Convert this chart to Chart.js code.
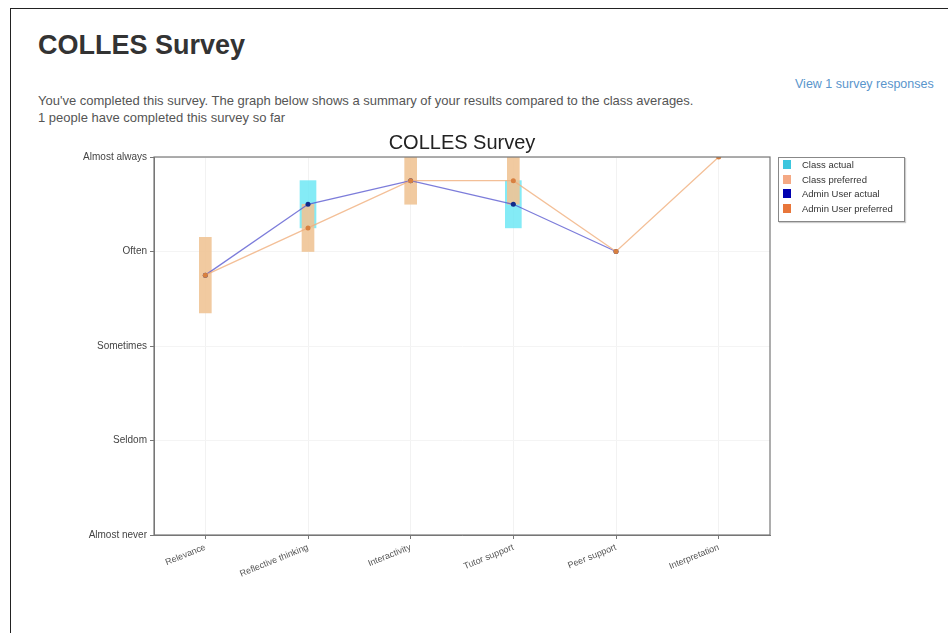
<!DOCTYPE html>
<html>
<head>
<meta charset="utf-8">
<script src="https://cdn.jsdelivr.net/npm/chart.js@4.4.0/dist/chart.umd.min.js"></script>
<style>
  body { margin: 0; background: #fff; font-family: "Liberation Sans", Arial, sans-serif; }
  #frame { position: absolute; left: 10px; top: 8px; width: 1000px; height: 700px; border: 1.5px solid #222; }
  h2 { position: absolute; left: 38px; top: 30px; margin: 0; font-size: 27px; font-weight: bold; color: #333; }
  .intro { position: absolute; left: 38px; top: 92px; margin: 0; font-size: 13px; line-height: 17px; color: #555; }
  #link { position: absolute; left: 795px; top: 77px; font-size: 12.5px; color: #5a95cc; }
  #wrap { position: absolute; left: 40px; top: 128px; width: 844px; height: 460px; }
  #legend { position: absolute; left: 778px; top: 157px; width: 125px; height: 63px; border: 1px solid #888;
            box-shadow: 1px 1px 1px #ccc; background: #fff; font-size: 9.5px; color: #333; }
  #legend div { height: 14.5px; line-height: 14.5px; padding-left: 4px; white-space: nowrap; }
  #legend span { display: inline-block; width: 8px; height: 9px; margin-right: 11px; vertical-align: -1px; }
</style>
</head>
<body>
<div id="frame"></div>
<h2>COLLES Survey</h2>
<div id="link">View 1 survey responses</div>
<p class="intro">You've completed this survey. The graph below shows a summary of your results compared to the class averages.<br>1 people have completed this survey so far</p>
<div id="wrap"><canvas id="chart"></canvas></div>
<div id="legend"></div>
<script>
// categories and scale labels
const categories = ['Relevance', 'Reflective thinking', 'Interactivity', 'Tutor support', 'Peer support', 'Interpretation'];
const scaleLabels = ['Almost never', 'Seldom', 'Sometimes', 'Often', 'Almost always'];

// class ranges (mean +/- spread)
const classActual = [null, [4.25, 4.75], null, [4.25, 4.75], null, null];
const classPreferred = [[3.35, 4.15], [4.0, 4.5], [4.5, 5.0], [4.5, 5.0], null, null];

// single user answers
const userActual = [3.75, 4.5, 4.75, 4.5, 4.0, null];
const userPreferred = [3.75, 4.25, 4.75, 4.75, 4.0, 5.0];

const seriesNames = ['Class actual', 'Class preferred', 'Admin User actual', 'Admin User preferred'];
const legendColors = ['#3cc6de', '#f4a984', '#0000b0', '#e8763a'];

// frame around the plot area
const framePlugin = {
    id: 'frame',
    afterDraw(chart) {
        const a = chart.chartArea, ctx = chart.ctx;
        ctx.save();
        ctx.strokeStyle = '#777';
        ctx.lineWidth = 1.2;
        ctx.strokeRect(a.left, a.top, a.right - a.left, a.bottom - a.top);
        ctx.restore();
    }
};

const chart = new Chart(document.getElementById('chart'), {
    type: 'bar',
    data: {
        labels: categories,
        datasets: [{
            label: seriesNames[0],
            data: classActual,
            backgroundColor: 'rgba(110,232,245,0.85)',
            barThickness: 16,
            grouped: false,
            order: 4
        }, {
            label: seriesNames[1],
            data: classPreferred,
            backgroundColor: 'rgba(240,196,150,0.9)',
            barThickness: 12,
            grouped: false,
            order: 3
        }, {
            type: 'line',
            label: seriesNames[2],
            data: userActual,
            borderColor: 'rgba(80,80,205,0.75)',
            borderWidth: 1.3,
            pointBackgroundColor: '#102a8a',
            pointBorderWidth: 0,
            pointRadius: 2.5,
            spanGaps: false,
            order: 2
        }, {
            type: 'line',
            label: seriesNames[3],
            data: userPreferred,
            borderColor: 'rgba(240,175,125,0.8)',
            borderWidth: 1.3,
            pointBackgroundColor: '#d88040',
            pointBorderWidth: 0,
            pointRadius: 2.5,
            order: 1
        }]
    },
    options: {
        responsive: true,
        maintainAspectRatio: false,
        animation: false,
        layout: { padding: 0 },
        plugins: {
            legend: { display: false },
            tooltip: { enabled: false },
            title: {
                display: true,
                text: 'COLLES Survey',
                color: '#222',
                font: { family: 'Liberation Sans', size: 20, weight: 'normal' },
                padding: { top: 3.5, bottom: 1.5 }
            }
        },
        scales: {
            x: {
                offset: true,
                grid: { offset: false, color: '#f2f2f2', tickLength: 4, tickColor: '#777' },
                border: { color: '#777' },
                ticks: {
                    minRotation: 22, maxRotation: 22,
                    color: '#555',
                    font: { family: 'Liberation Sans', size: 9 }
                },
                afterFit(scale) { scale.height = 53; }
            },
            y: {
                min: 1, max: 5,
                grid: { color: '#f4f4f4', tickLength: 4, tickColor: '#777' },
                border: { color: '#777' },
                ticks: {
                    stepSize: 1,
                    color: '#444',
                    font: { family: 'Liberation Sans', size: 10 },
                    callback: v => scaleLabels[v - 1]
                },
                afterFit(scale) { scale.width = 114; }
            },
            // empty right-hand axis keeps the plot centred under the title
            yRight: {
                position: 'right',
                min: 1, max: 5,
                grid: { display: false },
                border: { display: false },
                ticks: { display: false },
                afterFit(scale) { scale.width = 114; }
            }
        }
    },
    plugins: [framePlugin]
});

// legend built from the chart's datasets
const legend = document.getElementById('legend');
chart.data.datasets.forEach((ds, i) => {
    const row = document.createElement('div');
    row.innerHTML = '<span style="background:' + legendColors[i] + '"></span>' + ds.label;
    legend.appendChild(row);
});
</script>
</body>
</html>
